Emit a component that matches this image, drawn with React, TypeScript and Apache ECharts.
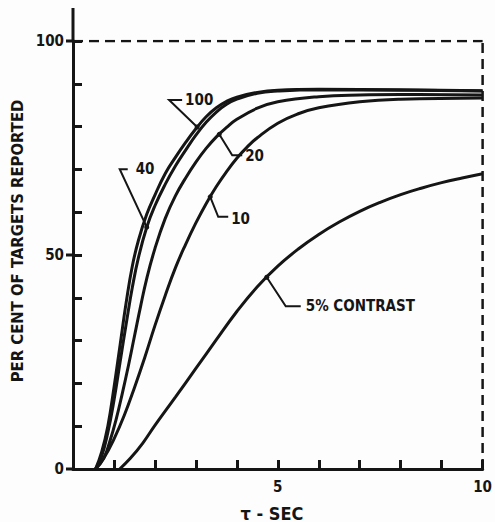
import React, { useEffect, useRef } from "react";
import * as echarts from "echarts";

const FONT = "'DejaVu Sans Condensed', 'Liberation Sans Narrow', 'DejaVu Sans', sans-serif";
const INK = "#151515";

// curve data: [tau (sec), percent of targets reported]
const curve100: number[][] = [
  [0.55, 0], [0.7, 4], [0.85, 10], [1.0, 19], [1.15, 29], [1.3, 39], [1.45, 47.5], [1.6, 53.5],
  [1.8, 59.5], [2.0, 64], [2.25, 69], [2.5, 72.8], [2.75, 76.3], [3.0, 79.5], [3.25, 82.3],
  [3.5, 84.4], [3.75, 85.9], [4.0, 86.9], [4.5, 88.0], [5.0, 88.5], [6.0, 88.7], [8.0, 88.6],
  [10.0, 88.4],
];
const curve40: number[][] = [
  [0.55, 0], [0.7, 3], [0.85, 8.5], [1.0, 16], [1.15, 25], [1.3, 34], [1.45, 42.5], [1.6, 49.5],
  [1.8, 56.5], [2.0, 61.5], [2.25, 66.5], [2.5, 70.8], [2.75, 74.5], [3.0, 78], [3.25, 81],
  [3.5, 83.4], [3.75, 85.2], [4.0, 86.4], [4.5, 87.8], [5.0, 88.3], [6.0, 88.6], [8.0, 88.5],
  [10.0, 88.3],
];
const curve20: number[][] = [
  [0.55, 0], [0.75, 2.5], [0.9, 6.5], [1.05, 11.5], [1.2, 17.5], [1.35, 24], [1.5, 31],
  [1.65, 38], [1.8, 44.5], [2.0, 51.5], [2.25, 58.5], [2.5, 63.8], [2.75, 68], [3.0, 71.7],
  [3.25, 74.9], [3.5, 77.6], [3.75, 79.8], [4.0, 81.7], [4.5, 84.3], [5.0, 85.8], [6.0, 87],
  [7.0, 87.4], [8.0, 87.5], [10.0, 87.4],
];
const curve10: number[][] = [
  [0.55, 0], [0.75, 2.5], [1.0, 7], [1.25, 12.5], [1.5, 19], [1.75, 26], [2.0, 33.5],
  [2.25, 40.5], [2.5, 47], [2.75, 52.5], [3.0, 57.5], [3.25, 62], [3.5, 66], [3.75, 69.5],
  [4.0, 72.6], [4.25, 75.2], [4.5, 77.4], [5.0, 80.8], [5.5, 83], [6.0, 84.4], [7.0, 85.8],
  [8.0, 86.4], [10.0, 86.7],
];
const curve5: number[][] = [
  [1.14, 0], [1.4, 2.5], [1.7, 6], [2.0, 10.2], [2.5, 16.8], [3.0, 23.5], [3.5, 30.2],
  [4.0, 36.8], [4.5, 42.6], [5.0, 47.4], [5.5, 51.4], [6.0, 54.8], [6.5, 57.7], [7.0, 60.2],
  [7.5, 62.3], [8.0, 64.1], [8.5, 65.6], [9.0, 66.9], [9.5, 68], [10.0, 69],
];
const curves = [curve100, curve40, curve20, curve10, curve5];

// dashed frame: 100 % level and the 10 s limit
const limitTop: number[][] = [[0, 100], [10, 100]];
const limitRight: number[][] = [[10, 0], [10, 100]];

const xLabels = [5, 10];
const yLabels = [0, 50, 100];
const yOuterTicks = [0, 50, 100];

// callouts: text and the point on its curve that the pointer touches (data coords)
const calloutTexts = ["100", "40", "20", "10", "5% CONTRAST"];
const calloutTips: number[][] = [[3.03, 79.9], [1.8, 56.5], [3.57, 78.2], [3.35, 63.6], [4.73, 44.8]];
// pixel offsets from tip: elbow, end of bar, text anchor
const calloutOffsets = [
  { elbow: [-28, -27], end: [-15, -27], text: [-12, -27] },
  { elbow: [-27, -58], end: [-19, -58], text: [-11, -58] },
  { elbow: [13, 21], end: [23, 21], text: [26, 22] },
  { elbow: [8, 20], end: [18, 20], text: [21, 22] },
  { elbow: [19, 29], end: [34, 29], text: [39, 29] },
];

const GRID = { left: 73, right: 11, top: 41, bottom: 53 };

export default function App() {
  const ref = useRef<HTMLDivElement>(null);
  useEffect(() => {
    if (!ref.current) return;
    const chart = echarts.init(ref.current, undefined, { renderer: "svg" });
    const labelStyle = { fontFamily: FONT, fontWeight: "bold" as const, fontSize: 15, color: INK };
    const curveSeries = curves.map((c) => ({
      type: "line",
      data: c,
      smooth: 0.45,
      showSymbol: false,
      lineStyle: { color: INK, width: 3 },
    }));
    const frameSeries = [limitTop, limitRight].map((c) => ({
      type: "line",
      data: c,
      showSymbol: false,
      lineStyle: { color: INK, width: 2.5, type: [10, 6] },
    }));
    chart.setOption({
      animation: false,
      backgroundColor: "#fdfdfd",
      grid: GRID,
      xAxis: {
        type: "value",
        min: 0,
        max: 10,
        interval: 1,
        axisLine: { show: true, lineStyle: { color: INK, width: 3 } },
        axisTick: { show: true, inside: true, length: 9, lineStyle: { color: INK, width: 3 } },
        axisLabel: {
          ...labelStyle,
          margin: 10,
          formatter: (v: number) => (xLabels.includes(v) ? String(v) : ""),
        },
        splitLine: { show: false },
      },
      yAxis: {
        type: "value",
        min: 0,
        max: 100,
        interval: 10,
        axisLine: { show: true, lineStyle: { color: INK, width: 3 } },
        axisTick: { show: true, inside: true, length: 9, lineStyle: { color: INK, width: 3 } },
        axisLabel: {
          ...labelStyle,
          margin: 9,
          formatter: (v: number) => (yLabels.includes(v) ? String(v) : ""),
        },
        splitLine: { show: false },
      },
      series: [...curveSeries, ...frameSeries],
    });

    const toPx = (p: number[]) =>
      chart.convertToPixel({ xAxisIndex: 0, yAxisIndex: 0 }, p) as number[];
    const topPx = toPx([0, 100]);
    const graphics: any[] = [
      {
        type: "line",
        shape: { x1: topPx[0], y1: 8, x2: topPx[0], y2: topPx[1] },
        style: { stroke: INK, lineWidth: 3 },
      },
      {
        type: "text",
        x: 17,
        y: 241,
        rotation: Math.PI / 2,
        style: {
          text: "PER CENT OF TARGETS REPORTED",
          font: `bold 16.5px ${FONT}`,
          fill: INK,
          align: "center",
          verticalAlign: "middle",
        },
      },
      {
        type: "text",
        x: 272,
        y: 513,
        style: {
          text: "τ - SEC",
          font: `bold 18px ${FONT}`,
          fill: INK,
          align: "center",
          verticalAlign: "middle",
        },
      },
    ];
    yOuterTicks.forEach((v) => {
      const p = toPx([0, v]);
      graphics.push({
        type: "rect",
        shape: { x: p[0] - 7, y: p[1] - 1.5, width: 7, height: 3 },
        style: { fill: INK },
      });
    });
    calloutTexts.forEach((t, i) => {
      const tip = toPx(calloutTips[i]);
      const o = calloutOffsets[i];
      graphics.push({
        type: "polyline",
        shape: {
          points: [
            [tip[0], tip[1]],
            [tip[0] + o.elbow[0], tip[1] + o.elbow[1]],
            [tip[0] + o.end[0], tip[1] + o.end[1]],
          ],
        },
        style: { stroke: INK, lineWidth: 2, fill: "none" },
      });
      graphics.push({
        type: "circle",
        shape: { cx: tip[0], cy: tip[1], r: 2.5 },
        style: { fill: INK },
      });
      graphics.push({
        type: "text",
        x: tip[0] + o.text[0],
        y: tip[1] + o.text[1],
        style: {
          text: t,
          font: `bold 15px ${FONT}`,
          fill: INK,
          align: "left",
          verticalAlign: "middle",
        },
      });
    });
    chart.setOption({ graphic: graphics });
    return () => chart.dispose();
  }, []);
  return (
    <div
      ref={ref}
      style={{ position: "fixed", left: 0, top: 0, width: 495, height: 522 }}
    />
  );
}
